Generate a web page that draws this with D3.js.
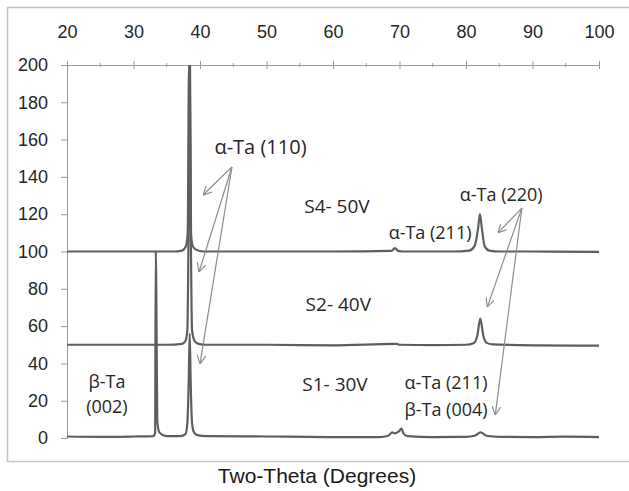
<!DOCTYPE html>
<html>
<head>
<meta charset="utf-8">
<script src="https://cdn.jsdelivr.net/npm/d3@7"></script>
<style>
  body { margin: 0; background: #fff; }
  #canvas { width: 629px; height: 491px; overflow: hidden; }
</style>
</head>
<body>
<div id="canvas"></div>
<script>
// scans (two-theta in degrees, counts offset by 0 / 50 / 100)
const s1Theta = [20, 25, 30, 33.0, 33.25, 33.35, 33.6, 33.9, 34.5, 35, 37, 37.8, 38.1, 38.3, 38.45, 38.6, 38.8, 39.1, 39.6, 41, 50, 60, 67, 68.3, 68.9, 69.3, 69.9, 70.3, 70.6, 71.2, 75, 80, 81.3, 82.2, 83.1, 85, 90, 95, 100];
const s1Counts = [0.8, 0.6, 0.8, 1.0, 3, 100, 8, 3, 1.5, 1, 1, 2, 8, 30, 56, 30, 8, 3, 1.5, 1, 0.8, 0.5, 0.5, 1.2, 3, 2.5, 3.5, 5, 2.5, 1, 0.5, 0.6, 1.2, 3, 1.2, 0.6, 0.5, 0.7, 0.5];

const s2Theta = [20, 30, 35, 37.3, 37.8, 38.1, 38.3, 38.45, 38.6, 38.8, 39.2, 39.8, 41, 50, 60, 69.5, 70, 75, 80, 81.2, 81.7, 82.15, 82.6, 83.1, 84, 90, 100];
const s2Counts = [50, 50, 50, 50.5, 52, 58, 120, 200, 120, 58, 52, 50.5, 50, 50, 49.7, 50.5, 50, 49.8, 50, 51, 55, 64, 55, 51, 50.2, 49.7, 49.5];

const s4Theta = [20, 30, 36, 37.3, 37.9, 38.15, 38.35, 38.5, 38.65, 38.9, 39.4, 40.5, 50, 60, 68.8, 69.3, 69.8, 70.5, 78, 80.5, 81.3, 81.8, 82.1, 82.4, 82.8, 83.5, 85, 90, 100];
const s4Counts = [100, 100, 100, 100.5, 103, 110, 200, 200, 110, 103, 101, 100, 100, 100, 100.3, 101.8, 100.3, 100, 100, 100.5, 103, 112, 120, 112, 103, 100.5, 100, 100, 99.8];

const xTicks = [20, 30, 40, 50, 60, 70, 80, 90, 100];
const xMinor = [25, 35, 45, 55, 65, 75, 85, 95];
const yTicks = [0, 20, 40, 60, 80, 100, 120, 140, 160, 180, 200];

// labels: [text, theta, counts, size]
const labels = [
  ["α-Ta (110)", 49.1, 152.3, 20],
  ["S4- 50V", 60.6, 120.6, 19],
  ["α-Ta (220)", 85.3, 127, 18],
  ["α-Ta (211)", 74.6, 106.7, 18],
  ["S2- 40V", 60.8, 68, 19],
  ["S1- 30V", 60.3, 25.2, 19],
  ["α-Ta (211)", 77, 26.3, 18],
  ["β-Ta (004)", 77, 11.8, 18],
  ["β-Ta", 26, 26.8, 18],
  ["(002)", 26, 13.4, 18]
];

// arrows: from [theta, counts] to [theta, counts]
const arrowFrom = [[44.8, 145.3], [44.8, 145.3], [44.8, 145.3], [88.4, 123.3], [88.4, 123.3], [88.4, 123.3]];
const arrowTo = [[40.45, 130.3], [39.85, 89], [40.0, 39.7], [84.8, 110], [83.2, 70.2], [84.4, 12.3]];

const width = 629;
const height = 491;
const margin = {top: 65, left: 67, bottom: 53, right: 30};
const iwidth = width - margin.left - margin.right;
const iheight = height - margin.top - margin.bottom;

const svg = d3.select("#canvas").append("svg")
  .attr("width", width)
  .attr("height", height)
  .style("font-family", "'Open Sans', sans-serif");

svg.append("rect")
  .attr("x", 7.5).attr("y", 7.5)
  .attr("width", 630).attr("height", 454)
  .attr("fill", "#fff")
  .attr("stroke", "#c4c4c4")
  .attr("stroke-width", 1.5);

svg.append("defs").append("clipPath").attr("id", "plotclip")
  .append("rect").attr("width", iwidth + 4).attr("height", iheight + 2).attr("y", 0);

svg.select("defs").append("marker")
  .attr("id", "head")
  .attr("viewBox", "0 0 10 10")
  .attr("refX", 10).attr("refY", 5)
  .attr("markerWidth", 9).attr("markerHeight", 9)
  .attr("markerUnits", "userSpaceOnUse")
  .attr("orient", "auto")
  .append("path")
  .attr("d", "M0,0 L10,5 L0,10")
  .attr("fill", "none")
  .attr("stroke", "#8c8c8c")
  .attr("stroke-width", 1.3);

const g = svg.append("g").attr("transform", `translate(${margin.left},${margin.top})`);

const x = d3.scaleLinear().domain([20, 100]).range([0, iwidth]);
const y = d3.scaleLinear().domain([0, 200]).range([iheight, 0]);

// y axis
const yAxis = g.append("g")
  .call(d3.axisLeft(y).tickValues(yTicks).tickSize(6).tickPadding(13));
yAxis.selectAll("text").style("font-size", "18px").attr("fill", "#262626");

// top x axis with crossing ticks
const xAxis = g.append("g")
  .call(d3.axisTop(x).tickValues(xTicks).tickSize(4).tickPadding(23));
xAxis.selectAll(".tick line").attr("y1", 4);
xAxis.selectAll("text").style("font-size", "18px").attr("fill", "#262626");

g.append("g").selectAll("line").data(xMinor).join("line")
  .attr("x1", d => x(d)).attr("x2", d => x(d))
  .attr("y1", -2).attr("y2", 2);

g.selectAll(".domain, .tick line").attr("stroke", "#9a9a9a");
g.selectAll("g > line").attr("stroke", "#9a9a9a");

// scans
const line = d3.line()
  .x(d => x(d[0]))
  .y(d => y(d[1]))
  .curve(d3.curveMonotoneX);

const scans = [
  d3.zip(s4Theta, s4Counts),
  d3.zip(s2Theta, s2Counts),
  d3.zip(s1Theta, s1Counts)
];

g.append("g").attr("clip-path", "url(#plotclip)")
  .selectAll("path").data(scans).join("path")
  .attr("d", line)
  .attr("fill", "none")
  .attr("stroke", "#5e5e5e")
  .attr("stroke-width", 2.2)
  .attr("stroke-linejoin", "round");

// arrows
g.append("g").selectAll("line").data(d3.zip(arrowFrom, arrowTo)).join("line")
  .attr("x1", d => x(d[0][0])).attr("y1", d => y(d[0][1]))
  .attr("x2", d => x(d[1][0])).attr("y2", d => y(d[1][1]))
  .attr("stroke", "#8c8c8c")
  .attr("stroke-width", 1.2)
  .attr("marker-end", "url(#head)");

// annotations
g.append("g").selectAll("text").data(labels).join("text")
  .attr("x", d => x(d[1]))
  .attr("y", d => y(d[2]))
  .attr("text-anchor", "middle")
  .style("font-size", d => d[3] + "px")
  .attr("fill", "#262626")
  .text(d => d[0]);

svg.append("text")
  .attr("x", 317)
  .attr("y", 483)
  .attr("text-anchor", "middle")
  .style("font-family", "'Liberation Sans', Arial, sans-serif")
  .style("font-size", "21px")
  .attr("fill", "#1a1a1a")
  .text("Two-Theta (Degrees)");
</script>
</body>
</html>
